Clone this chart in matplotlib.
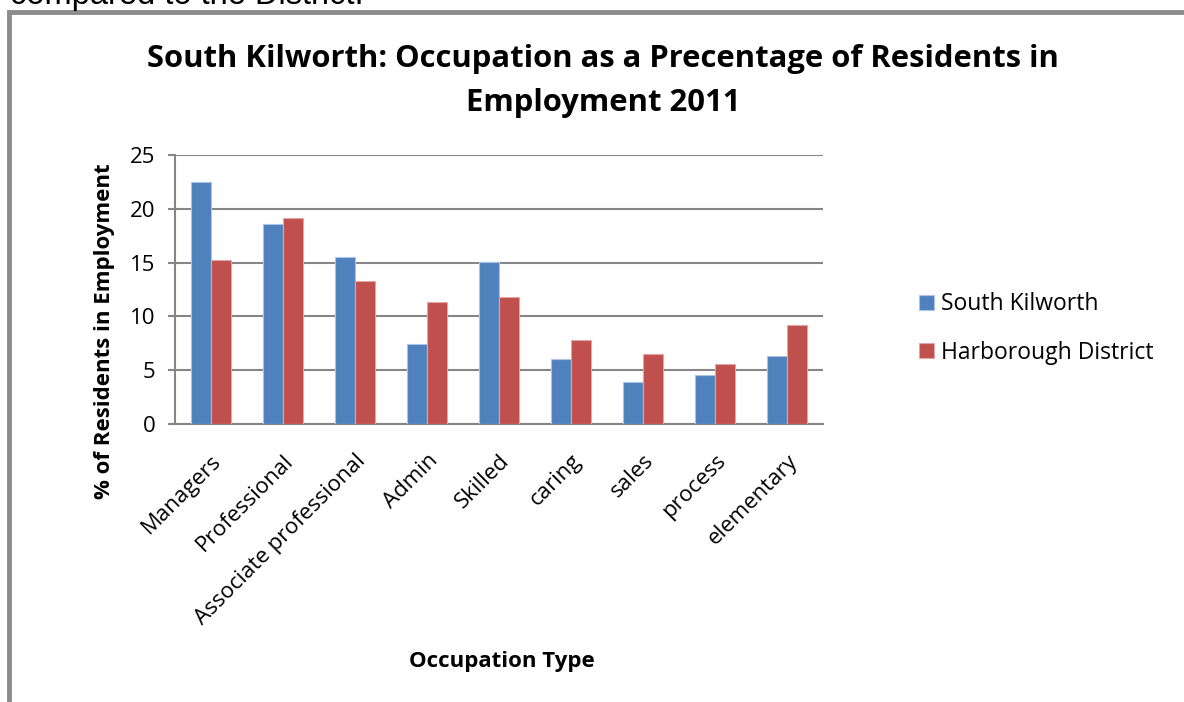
import numpy as np
import matplotlib.pyplot as plt
from matplotlib.patches import Rectangle

# Occupation categories and percentages
CATEGORIES = ["Managers", "Professional", "Associate professional", "Admin",
              "Skilled", "caring", "sales", "process", "elementary"]
SOUTH_KILWORTH = [22.5, 18.6, 15.5, 7.4, 15.1, 6.0, 3.9, 4.6, 6.3]
HARBOROUGH = [15.2, 19.1, 13.3, 11.3, 11.8, 7.8, 6.5, 5.6, 9.2]
SERIES_NAMES = ["South Kilworth", "Harborough District"]
Y_TICKS = [0, 5, 10, 15, 20, 25]

BLUE = "#4F81BD"
RED = "#C0504D"
GRID = "#868686"
FONT = ["Open Sans", "DejaVu Sans"]

W, H = 1184, 702


def main():
    plt.rcParams["font.family"] = FONT
    fig = plt.figure(figsize=(W / 100, H / 100), dpi=100)

    # outer frame of the chart object (top/left border visible in the page crop)
    fig.patches.append(Rectangle((9 / W, -0.1), 2, (H - 12) / H + 0.1,
                                 transform=fig.transFigure, fill=False,
                                 edgecolor="#8C8C8C", linewidth=3.5))
    # cut-off body text above the chart
    fig.text(10 / W, 1 - 4 / H, "compared to the District.", fontsize=23.5,
             family="Liberation Sans", va="baseline", ha="left", color="black")

    ax = fig.add_axes([175 / W, 1 - 424 / H, 648 / W, 269 / H])

    x = np.arange(len(CATEGORIES))
    width = 0.278
    ax.bar(x - width / 2, SOUTH_KILWORTH, width, color=BLUE,
           edgecolor="#A9C4E6", linewidth=0.8, label=SERIES_NAMES[0], zorder=3)
    ax.bar(x + width / 2, HARBOROUGH, width, color=RED,
           edgecolor="#E3A5A3", linewidth=0.8, label=SERIES_NAMES[1], zorder=3)

    ax.set_xlim(-0.5, len(CATEGORIES) - 0.5)
    ax.set_ylim(0, 25)
    ax.set_yticks(Y_TICKS)
    ax.tick_params(axis="y", labelsize=16, length=5, color=GRID, width=1.5, pad=9)
    ax.tick_params(axis="x", length=0, labelsize=16, pad=19)
    ax.set_xticks(x)
    ax.set_xticklabels(CATEGORIES, rotation=45, ha="right", rotation_mode="anchor")

    ax.grid(axis="y", color=GRID, linewidth=1.5, zorder=0)
    for side in ["top", "right"]:
        ax.spines[side].set_visible(False)
    ax.spines["left"].set_color(GRID)
    ax.spines["left"].set_linewidth(1.5)
    ax.spines["bottom"].set_color(GRID)
    ax.spines["bottom"].set_linewidth(1.5)

    fig.text(105 / W, 1 - 331 / H, "% of Residents in Employment", fontsize=16,
             fontweight="bold", rotation=90, ha="center", va="center")
    fig.text(502 / W, 1 - 661 / H, "Occupation Type", fontsize=16,
             fontweight="bold", ha="center", va="center")

    fig.text(603 / W, 1 - 81 / H,
             "South Kilworth: Occupation as a Precentage of Residents in\nEmployment 2011",
             fontsize=22.3, fontweight="bold", ha="center", va="center",
             linespacing=1.6)

    fig.legend(loc="center left", bbox_to_anchor=(919 / W, 1 - 328.5 / H),
               frameon=False, fontsize=16.5, handlelength=0.65, handleheight=0.65,
               handletextpad=0.3, labelspacing=1.05, borderpad=0,
               borderaxespad=0)

    fig.savefig("out.png", dpi=100)


if __name__ == "__main__":
    main()
